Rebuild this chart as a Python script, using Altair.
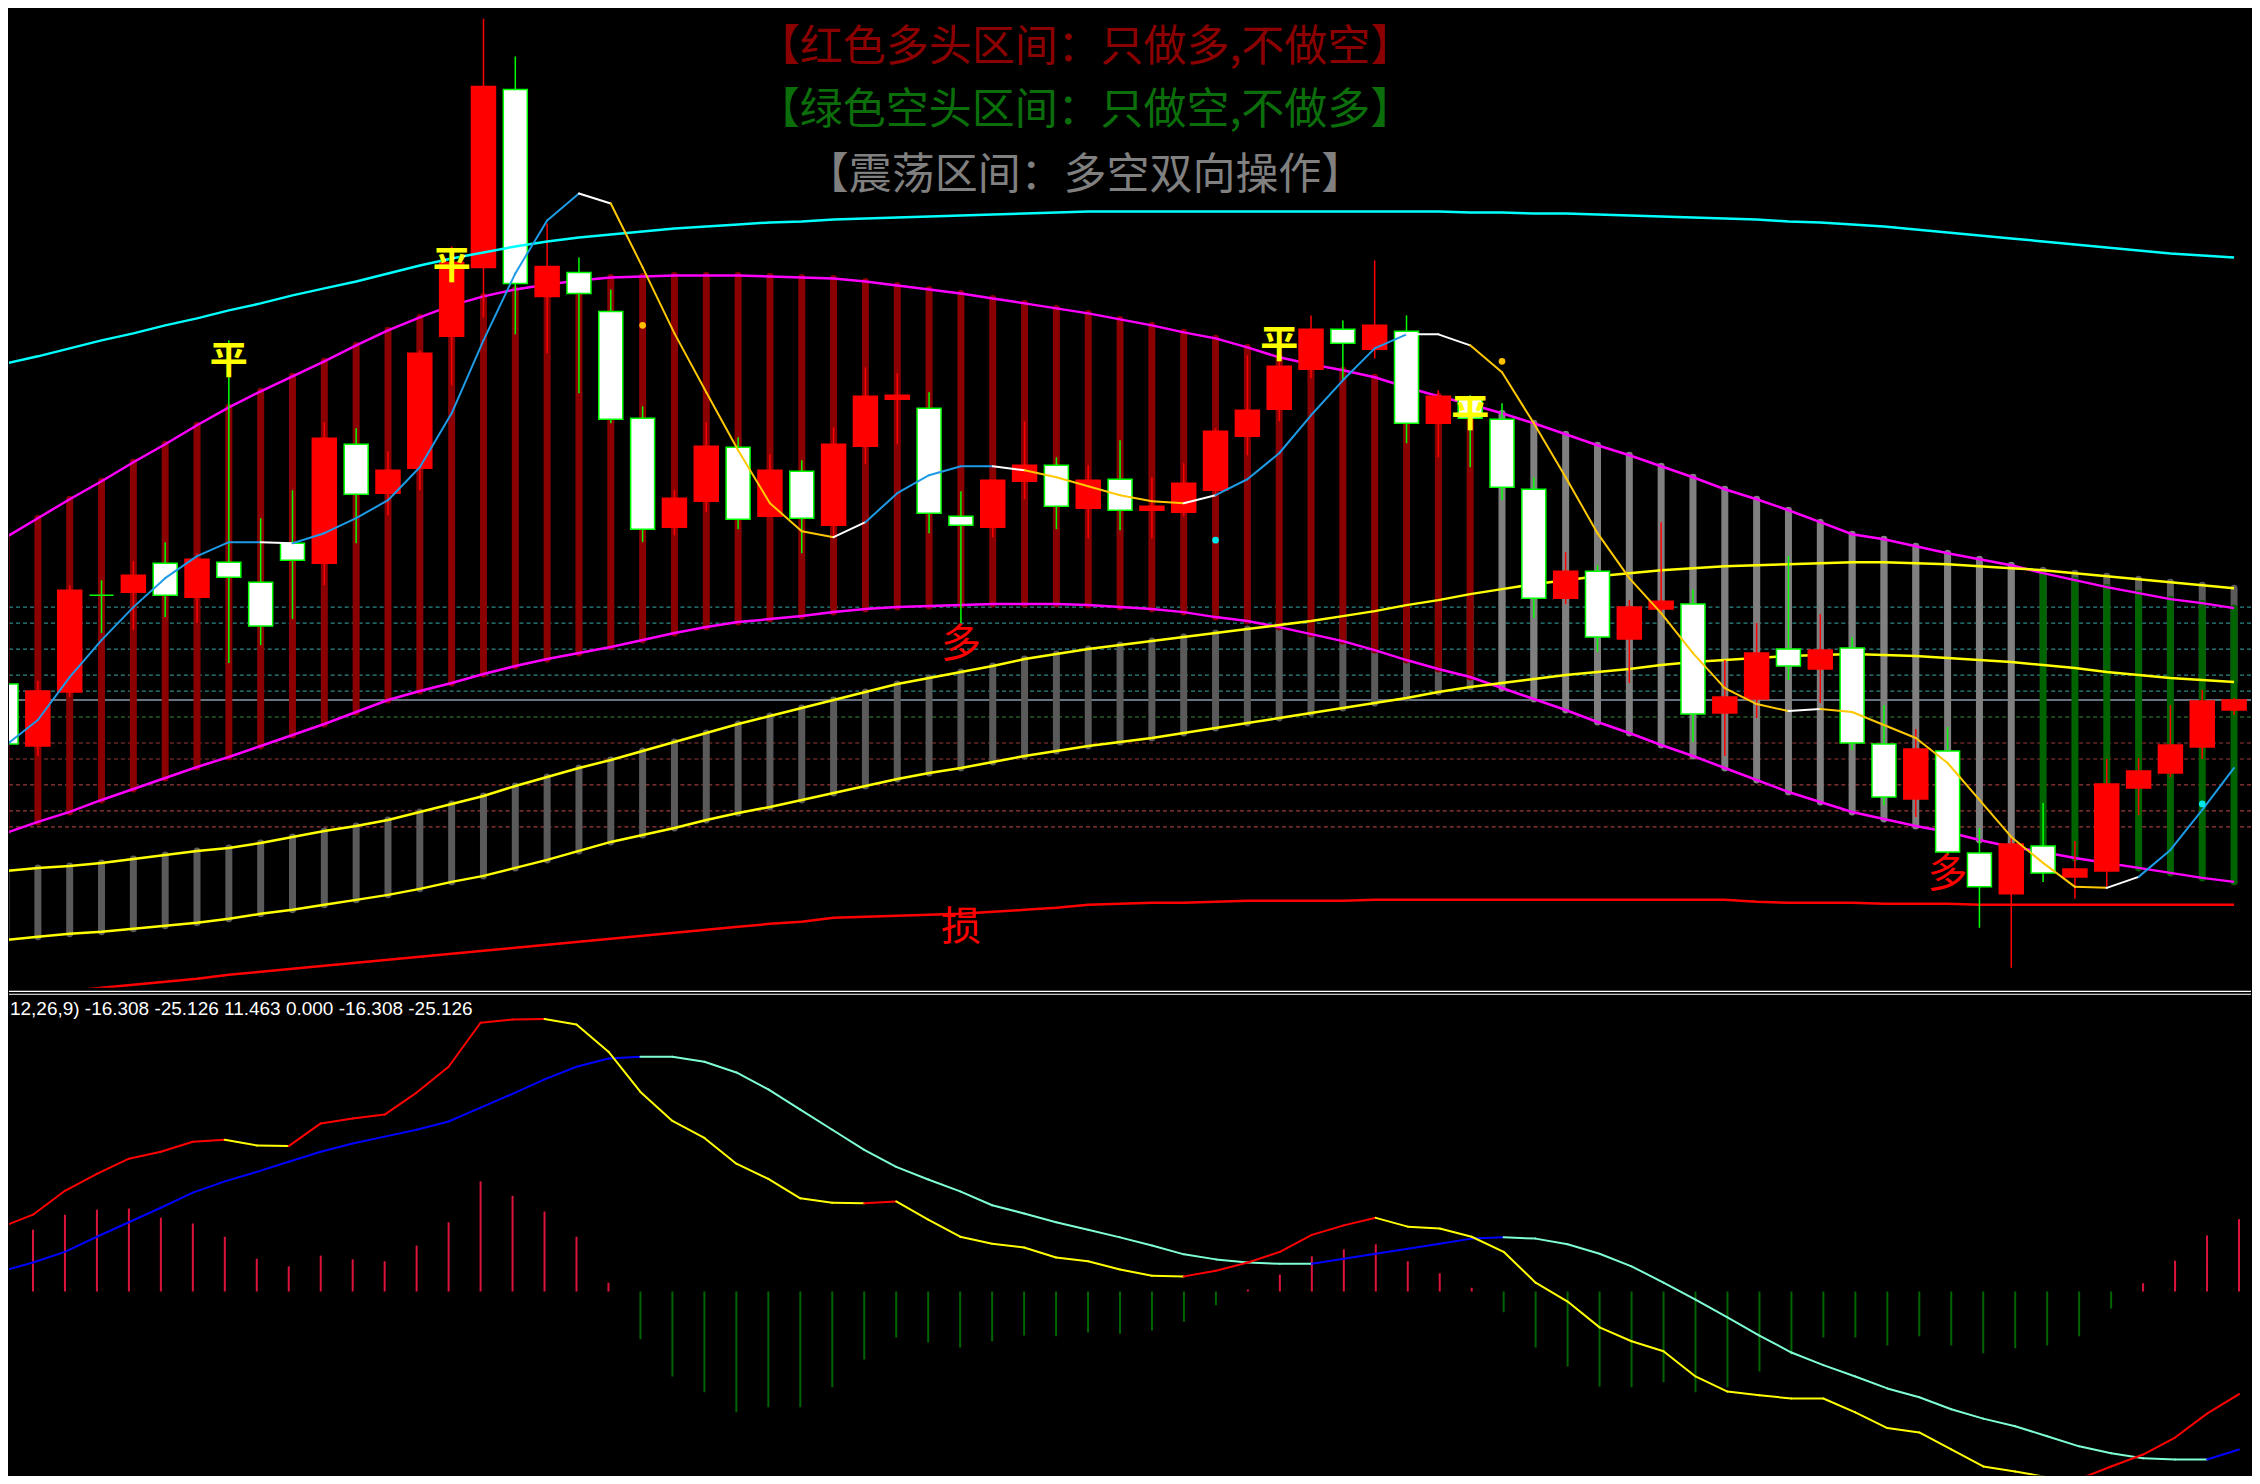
import altair as alt
import pandas as pd

# ---------------- data (price units for the upper panel, MACD units for the lower) -------------
N = 71
IDX = list(range(N))

OPEN = [306, 244, 298, 395, 398, 427, 393, 428, 408, 447,
        427, 546, 497, 522, 654, 723, 901, 694, 718, 679,
        572, 463, 489, 543, 474, 519, 465, 544, 591, 582,
        474, 463, 509, 525, 482, 511, 480, 478, 500, 554,
        581, 621, 661, 641, 659, 567, 592, 571, 501, 392,
        419, 351, 381, 386, 277, 291, 341, 321, 342, 246,
        191, 239, 137, 96, 144, 113, 119, 202, 217, 243,
        280]
CLOSE = [246, 299, 400, 395, 415, 395, 431, 413, 364, 430,
         552, 496, 520, 637, 728, 904, 707, 724, 697, 571,
         461, 492, 544, 471, 520, 472, 546, 594, 595, 477,
         465, 510, 525, 484, 510, 480, 484, 507, 559, 580,
         624, 661, 647, 665, 567, 594, 572, 503, 392, 419,
         353, 383, 389, 276, 293, 337, 324, 340, 247, 193,
         241, 138, 103, 146, 117, 121, 206, 219, 245, 289,
         290]
HIGH = [310, 309, 405, 410, 429, 448, 437, 650, 472, 500,
        568, 562, 539, 640, 744, 972, 934, 767, 733, 701,
        584, 500, 568, 553, 536, 530, 563, 623, 617, 598,
        499, 510, 569, 533, 525, 550, 513, 527, 562, 635,
        640, 675, 670, 730, 675, 600, 595, 587, 513, 438,
        425, 390, 468, 401, 330, 367, 434, 376, 353, 285,
        261, 263, 162, 153, 187, 149, 231, 232, 285, 300,
        292]
LOW = [240, 234, 293, 357, 360, 373, 367, 327, 345, 371,
       405, 447, 475, 500, 605, 673, 656, 637, 597, 567,
       448, 455, 478, 461, 474, 437, 453, 526, 546, 457,
       367, 453, 491, 461, 452, 460, 452, 474, 495, 535,
       569, 612, 610, 632, 547, 533, 523, 490, 372, 386,
       338, 307, 375, 248, 234, 272, 310, 287, 240, 185,
       173, 135, 62, 22, 108, 91, 103, 175, 213, 231,
       275]

MA_SHORT = [245, 270, 313, 350, 383, 412, 434, 448, 448, 447,
            457, 472, 490, 523, 577, 650, 717, 770, 797, 787,
            723, 657, 598, 540, 487, 459, 453, 468, 497, 515,
            524, 524, 520, 513, 504, 495, 489, 487, 495, 511,
            537, 575, 610, 642, 656, 656, 645, 618, 567, 513,
            457, 412, 377, 337, 302, 286, 279, 281, 278, 265,
            252, 227, 190, 153, 127, 103, 102, 113, 140, 180,
            222]
# segment state of the short average: b = rising, w = turning, y = falling
MA_SEG_RUNS = [("b", 8), ("w", 1), ("b", 9), ("w", 1), ("y", 7), ("w", 1), ("b", 4),
               ("w", 1), ("y", 5), ("w", 1), ("b", 6), ("w", 2), ("y", 10), ("w", 1),
               ("y", 9), ("w", 1), ("b", 3)]

MA_LONG = [627, 634, 642, 650, 657, 665, 672, 680, 687, 695,
           702, 709, 717, 725, 732, 738, 744, 749, 753, 756,
           759, 762, 764, 766, 768, 769, 771, 772, 773, 774,
           775, 776, 777, 778, 779, 779, 779, 779, 779, 779,
           779, 779, 779, 779, 779, 779, 778, 778, 777, 777,
           776, 775, 774, 773, 772, 771, 769, 768, 766, 764,
           761, 758, 755, 752, 749, 746, 743, 740, 737, 735,
           733]

BAND_UP = [453, 472, 491, 509, 528, 546, 565, 583, 599, 614,
           629, 645, 660, 673, 685, 694, 701, 706, 710, 713,
           714, 715, 715, 715, 714, 713, 712, 709, 705, 701,
           697, 692, 687, 682, 677, 671, 665, 658, 652, 643,
           633, 626, 620, 613, 603, 594, 586, 577, 567, 556,
           545, 535, 524, 513, 501, 491, 480, 468, 456, 451,
           444, 437, 431, 425, 417, 410, 403, 397, 391, 387,
           382]
BAND_LO = [157, 168, 178, 190, 201, 212, 223, 233, 244, 255,
           266, 278, 290, 299, 307, 316, 324, 331, 337, 343,
           350, 357, 363, 368, 371, 374, 378, 381, 383, 384,
           385, 386, 386, 386, 385, 383, 381, 378, 373, 369,
           363, 356, 349, 340, 330, 321, 313, 302, 291, 280,
           268, 257, 245, 234, 222, 210, 198, 188, 178, 171,
           164, 158, 150, 143, 138, 132, 127, 122, 117, 112,
           108]
YB_UP = [119, 122, 124, 127, 131, 135, 139, 142, 147, 153,
         159, 164, 170, 178, 186, 194, 204, 213, 222, 230,
         239, 248, 257, 266, 274, 282, 290, 298, 306, 312,
         318, 324, 331, 336, 341, 345, 349, 353, 357, 361,
         365, 369, 374, 379, 385, 390, 396, 401, 406, 410,
         414, 417, 420, 422, 424, 425, 426, 427, 428, 428,
         427, 426, 424, 422, 420, 417, 414, 411, 408, 405,
         402]
YB_LO = [50, 53, 56, 58, 61, 64, 67, 71, 76, 80,
         85, 90, 95, 101, 108, 114, 122, 130, 139, 148,
         155, 162, 170, 177, 183, 190, 197, 204, 211, 217,
         222, 228, 234, 239, 244, 248, 252, 257, 262, 267,
         272, 277, 282, 287, 292, 298, 303, 307, 311, 315,
         318, 321, 325, 328, 330, 332, 334, 335, 336, 335,
         334, 332, 330, 328, 325, 322, 318, 315, 312, 310,
         308]
STOP = [-7, -4, -1, 2, 5, 8, 11, 15, 18, 21,
        24, 27, 30, 33, 36, 39, 42, 45, 48, 51,
        54, 57, 60, 63, 66, 68, 72, 73, 74, 75,
        76, 78, 80, 82, 85, 86, 87, 87, 88, 89,
        89, 89, 89, 90, 90, 90, 90, 90, 90, 90,
        90, 90, 90, 90, 90, 88, 87, 87, 87, 86,
        86, 86, 85, 85, 85, 85, 85, 85, 85, 85,
        85]
ZONE_RUNS = [("多头", 47), ("震荡", 17), ("空头", 7)]

LEVELS = [383, 367, 341, 315, 299, 273, 247, 231, 205, 179, 163]
LEVEL_KIND = ["t", "t", "t", "t", "t", "g", "r", "r", "r", "r", "r"]
MID_LEVEL = [290]

SIG_GOLD_BARS = [20, 47]
SIG_GOLD_P = [665, 629]
SIG_CYAN_BARS = [38, 69]
SIG_CYAN_P = [450, 186]

PING_BARS = [7, 14, 40, 46]
PING_P = [628, 723, 644, 575]
DUO_BARS = [30, 61]
DUO_P = [345, 115]
SUN_BARS = [30]
SUN_P = [62]

TITLES = ["【红色多头区间：只做多,不做空】", "【绿色空头区间：只做空,不做多】", "【震荡区间：多空双向操作】"]
TITLE_COLORS = ["#8B0000", "#0B6E0B", "#808080"]
TITLE_X = [33.9, 33.9, 33.9]
TITLE_P = [943, 880, 814]

DIF = [10.2, 12.2, 16.0, 18.7, 21.1, 22.2, 23.8, 24.1, 23.2, 23.1,
       26.7, 27.5, 28.1, 31.6, 35.7, 42.7, 43.2, 43.3, 42.4, 38.1,
       31.7, 27.1, 24.4, 20.3, 17.9, 14.8, 14.1, 14.0, 14.3, 11.4,
       8.7, 7.6, 7.0, 5.4, 4.8, 3.5, 2.5, 2.4, 3.3, 4.6,
       6.3, 9.0, 10.5, 11.7, 10.3, 10.0, 8.7, 6.3, 1.4, -1.6,
       -5.7, -7.9, -9.5, -13.5, -15.9, -16.5, -17.0, -17.0, -19.2, -21.7,
       -22.4, -25.1, -27.8, -28.6, -29.5, -29.8, -27.8, -25.9, -23.2, -19.4,
       -16.3]
DEA = [3.2, 4.6, 6.3, 8.7, 11.0, 13.3, 15.7, 17.5, 19.0, 20.6,
       22.2, 23.5, 24.6, 25.7, 27.0, 29.2, 31.4, 33.7, 35.7, 37.0,
       37.3, 37.3, 36.5, 34.8, 32.1, 28.9, 25.7, 22.5, 19.8, 17.8,
       15.9, 13.7, 12.4, 11.0, 9.8, 8.6, 7.3, 5.9, 5.1, 4.6,
       4.4, 4.4, 5.2, 6.0, 6.8, 7.6, 8.4, 8.6, 8.4, 7.5,
       6.0, 4.0, 1.4, -1.3, -4.1, -7.0, -9.7, -11.7, -13.5, -15.4,
       -16.8, -18.7, -20.2, -21.4, -23.0, -24.6, -25.7, -26.5, -26.7, -26.7,
       -25.1]
HIST = [9.0, 9.8, 12.2, 13.0, 13.2, 11.7, 10.8, 8.7, 5.2, 4.0,
        5.7, 5.1, 4.8, 7.3, 11.0, 17.5, 15.2, 12.7, 8.7, 1.4,
        -7.6, -13.5, -16.0, -19.2, -18.4, -18.4, -15.2, -10.8, -7.3, -8.1,
        -8.9, -7.9, -7.0, -7.1, -6.5, -6.7, -6.2, -4.8, -2.2, 0.3,
        2.7, 5.6, 6.7, 7.5, 4.8, 2.9, 0.6, -3.3, -8.9, -11.9,
        -15.1, -15.2, -14.4, -16.0, -15.2, -12.7, -10.0, -7.3, -7.3, -8.6,
        -7.1, -8.6, -9.8, -9.0, -8.6, -7.1, -2.7, 1.3, 4.9, 8.9,
        11.5]
MACD_LABEL = "12,26,9) -16.308 -25.126 11.463 0.000 -16.308 -25.126"
MACD_LABEL_BAR = 0.28
MACD_LABEL_M = 44.9

# ---------------- layout / styles -------------
W = 2244
H_TOP = 980
H_BOT = 488
CJK = "Noto Sans CJK SC"

xs = alt.Scale(domain=[0.25, 70.375], nice=False, zero=False)
ys_top = alt.Scale(domain=[2, 982], nice=False, zero=False)
ys_bot = alt.Scale(domain=[-29.21, 48.25], nice=False, zero=False)

X = alt.X("i:Q", scale=xs, axis=None)

zones = []
for name, n in ZONE_RUNS:
    zones += [name] * n

df = pd.DataFrame({
    "i": IDX, "o": OPEN, "h": HIGH, "l": LOW, "c": CLOSE,
    "ma_l": MA_LONG, "bu": BAND_UP, "bl": BAND_LO,
    "yu": YB_UP, "yl": YB_LO, "stop": STOP, "zone": zones,
})
df["up"] = df["c"] > df["o"]
df["fill"] = df["up"].map({True: "#FF0000", False: "#FFFFFF"})
df["edge"] = df["up"].map({True: "#FF0000", False: "#00FF00"})

seg_state = []
for s, n in MA_SEG_RUNS:
    seg_state += [s] * n
STATE_COLOR = {"b": "#1E9BE6", "w": "#FFFFFF", "y": "#FFC800"}
rows = []
for k in range(1, N):
    col = STATE_COLOR[seg_state[k - 1]]
    rows.append({"seg": k, "i": k - 1, "v": MA_SHORT[k - 1], "col": col})
    rows.append({"seg": k, "i": k, "v": MA_SHORT[k], "col": col})
ma_seg = pd.DataFrame(rows)


def macd_segments(vals, up_col, down_col):
    out = []
    for k in range(1, N):
        col = up_col if vals[k] > vals[k - 1] else down_col
        out.append({"seg": k, "i": k - 1, "v": vals[k - 1], "col": col})
        out.append({"seg": k, "i": k, "v": vals[k], "col": col})
    return pd.DataFrame(out)


dif_seg = macd_segments(DIF, "#FF0000", "#FFFF00")
dea_seg = macd_segments(DEA, "#0000FF", "#7FFFD4")

KIND_COLOR = {"t": "#2F8585", "g": "#3A8A3A", "r": "#9A3A3A"}
lv = pd.DataFrame({"lv": LEVELS, "col": [KIND_COLOR[k] for k in LEVEL_KIND]})
mid = pd.DataFrame({"lv": MID_LEVEL})

base = alt.Chart(df)

levels = alt.Chart(lv).mark_rule(strokeDash=[4, 3], strokeWidth=1.2, clip=True).encode(
    y=alt.Y("lv:Q", scale=ys_top, axis=None), color=alt.Color("col:N", scale=None))
mid_line = alt.Chart(mid).mark_rule(color="#8A9AAA", strokeWidth=1.5, clip=True).encode(
    y=alt.Y("lv:Q", scale=ys_top, axis=None))

ybars = base.mark_rule(color="#5A5A5A", strokeWidth=7, strokeCap="round", clip=True).encode(
    x=X, y=alt.Y("yl:Q", scale=ys_top, axis=None), y2="yu:Q")
mbars = base.mark_rule(strokeWidth=7, strokeCap="round", clip=True).encode(
    x=X, y=alt.Y("bl:Q", scale=ys_top, axis=None), y2="bu:Q",
    color=alt.Color("zone:N", legend=None,
                    scale=alt.Scale(domain=["多头", "震荡", "空头"],
                                    range=["#8B0000", "#808080", "#006400"])))


def line(field, color, width=2.5):
    return base.mark_line(color=color, strokeWidth=width, clip=True).encode(
        x=X, y=alt.Y(f"{field}:Q", scale=ys_top, axis=None))


mag_up = line("bu", "#FF00FF")
mag_lo = line("bl", "#FF00FF")
yel_up = line("yu", "#FFFF00")
yel_lo = line("yl", "#FFFF00")
stop_line = line("stop", "#FF0000")
cyan_ma = line("ma_l", "#00FFFF")

wicks = base.mark_rule(strokeWidth=1.5, clip=True).encode(
    x=X, y=alt.Y("l:Q", scale=ys_top, axis=None), y2="h:Q",
    color=alt.Color("edge:N", scale=None))
bodies = base.mark_bar(size=24, strokeWidth=1.5, clip=True).encode(
    x=X, y=alt.Y("o:Q", scale=ys_top, axis=None), y2="c:Q",
    fill=alt.Fill("fill:N", scale=None), stroke=alt.Stroke("edge:N", scale=None))

short_ma = alt.Chart(ma_seg).mark_line(strokeWidth=2, strokeCap="round", clip=True).encode(
    x=X, y=alt.Y("v:Q", scale=ys_top, axis=None), detail="seg:N",
    color=alt.Color("col:N", scale=None))

gold = alt.Chart(pd.DataFrame({"i": SIG_GOLD_BARS, "p": SIG_GOLD_P})).mark_circle(
    color="#FFC000", size=45, opacity=1, clip=True).encode(
    x=X, y=alt.Y("p:Q", scale=ys_top, axis=None))
cyan = alt.Chart(pd.DataFrame({"i": SIG_CYAN_BARS, "p": SIG_CYAN_P})).mark_circle(
    color="#00E5E5", size=45, opacity=1, clip=True).encode(
    x=X, y=alt.Y("p:Q", scale=ys_top, axis=None))


def labels(bars, ps, text, color, size, weight="normal"):
    d = pd.DataFrame({"i": bars, "p": ps, "t": [text] * len(bars)})
    return alt.Chart(d).mark_text(font=CJK, fontSize=size, fontWeight=weight, color=color,
                                  align="center", baseline="middle").encode(
        x=X, y=alt.Y("p:Q", scale=ys_top, axis=None), text="t:N")


ping = labels(PING_BARS, PING_P, "平", "#FFFF00", 38, "bold")
duo = labels(DUO_BARS, DUO_P, "多", "#FF0000", 40)
sun = labels(SUN_BARS, SUN_P, "损", "#FF0000", 40)

titles = alt.Chart(pd.DataFrame({"i": TITLE_X, "p": TITLE_P, "t": TITLES, "col": TITLE_COLORS})).mark_text(
    font=CJK, fontSize=43, align="center", baseline="middle").encode(
    x=X, y=alt.Y("p:Q", scale=ys_top, axis=None), text="t:N", color=alt.Color("col:N", scale=None))

top = alt.layer(
    levels, mid_line, ybars, mbars, mag_up, mag_lo, yel_up, yel_lo, stop_line,
    wicks, bodies, cyan_ma, short_ma, gold, cyan, ping, duo, sun, titles
).properties(width=W, height=H_TOP)

# ---------------- MACD panel -------------
mdf = pd.DataFrame({"i": IDX, "hist": HIST, "zero": [0.0] * N})
hist = alt.Chart(mdf).mark_rule(strokeWidth=2, clip=True).encode(
    x=X, y=alt.Y("zero:Q", scale=ys_bot, axis=None), y2="hist:Q",
    color=alt.condition(alt.datum.hist > 0, alt.value("#DC143C"), alt.value("#006400")))
dea_line = alt.Chart(dea_seg).mark_line(strokeWidth=2, strokeCap="round", clip=True).encode(
    x=X, y=alt.Y("v:Q", scale=ys_bot, axis=None), detail="seg:N", color=alt.Color("col:N", scale=None))
dif_line = alt.Chart(dif_seg).mark_line(strokeWidth=2, strokeCap="round", clip=True).encode(
    x=X, y=alt.Y("v:Q", scale=ys_bot, axis=None), detail="seg:N", color=alt.Color("col:N", scale=None))
one = pd.DataFrame({"k": [0]})
sep1 = alt.Chart(one).mark_rule(color="#FFFFFF", strokeWidth=1.2).encode(
    x=alt.value(0), x2=alt.value(W), y=alt.value(3.5))
sep2 = alt.Chart(one).mark_rule(color="#FFFFFF", strokeWidth=1.2).encode(
    x=alt.value(0), x2=alt.value(W), y=alt.value(6.5))
mlabel = alt.Chart(pd.DataFrame({"i": [MACD_LABEL_BAR], "m": [MACD_LABEL_M], "t": [MACD_LABEL]})).mark_text(
    font="Liberation Sans", fontSize=19, color="#FFFFFF", align="left", baseline="middle").encode(
    x=X, y=alt.Y("m:Q", scale=ys_bot, axis=None), text="t:N")

bottom = alt.layer(sep1, sep2, hist, dea_line, dif_line, mlabel).properties(width=W, height=H_BOT)

chart = alt.vconcat(top, bottom, spacing=0, padding=0).resolve_scale(y="independent").configure(
    background="#000000").configure_view(stroke=None)

chart.save("out.html", embed_options={"renderer": "svg", "actions": False})
